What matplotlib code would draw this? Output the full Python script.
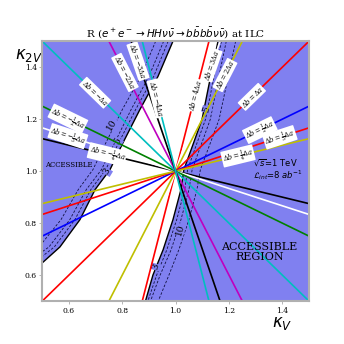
import matplotlib
matplotlib.use("Agg")
import matplotlib.pyplot as plt
import numpy as np

plt.rcParams['font.family'] = 'DejaVu Serif'

# lines  Delta b = k * Delta a  through the SM point (1, 1)
slopes = [4, 3, 2, 1, 1/2, 1/3, 1/4, -1/4, -1/3, -1/2, -1, -2, -3, -4]
line_colors = ['r', 'w', 'y', 'r', 'b', 'r', 'y', 'k', 'w', 'g', 'c', 'm', 'k', 'c']
line_labels = [r'$\Delta b=4\Delta a$', r'$\Delta b=3\Delta a$', r'$\Delta b=2\Delta a$',
               r'$\Delta b=\Delta a$', r'$\Delta b=\frac{1}{2}\Delta a$',
               r'$\Delta b=\frac{1}{3}\Delta a$', r'$\Delta b=\frac{1}{4}\Delta a$',
               r'$\Delta b=-\frac{1}{4}\Delta a$', r'$\Delta b=-\frac{1}{3}\Delta a$',
               r'$\Delta b=-\frac{1}{2}\Delta a$', r'$\Delta b=-\Delta a$',
               r'$\Delta b=-2\Delta a$', r'$\Delta b=-3\Delta a$', r'$\Delta b=-4\Delta a$']
label_kv = [1.073, 1.136, 1.185, 1.286, 1.316, 1.391, 1.234,
            0.743, 0.596, 0.596, 0.698, 0.81, 0.859, 0.93]

# edge of the accessible regions
left_kv = [0.99, 0.934, 0.866, 0.799, 0.754, 0.698, 0.641, 0.566, 0.5]
left_k2v = [1.5, 1.365, 1.237, 1.102, 1.006, 0.929, 0.813, 0.708, 0.647]
right_kv = [1.159, 1.129, 1.099, 1.065, 1.031, 1.02, 0.99, 0.953, 0.915, 0.887]
right_k2v = [1.5, 1.353, 1.199, 1.102, 1.006, 0.929, 0.813, 0.697, 0.6, 0.5]

# dashed R contours
contour_levels = ['3', '5', '10']
left_contours_kv = [[0.972, 0.918, 0.85, 0.783, 0.738, 0.682, 0.622, 0.545, 0.5],
                    [0.955, 0.9, 0.833, 0.768, 0.722, 0.665, 0.603, 0.525, 0.5],
                    [0.925, 0.87, 0.8, 0.735, 0.69, 0.635, 0.57, 0.5]]
left_contours_k2v = [[1.5, 1.365, 1.237, 1.102, 1.006, 0.929, 0.813, 0.708, 0.672],
                     [1.5, 1.365, 1.237, 1.102, 1.006, 0.929, 0.813, 0.708, 0.69],
                     [1.5, 1.365, 1.237, 1.102, 1.006, 0.929, 0.813, 0.724]]
right_contours_kv = [[1.172, 1.142, 1.112, 1.078, 1.045, 1.034, 1.004, 0.967, 0.929, 0.896],
                     [1.19, 1.16, 1.13, 1.096, 1.062, 1.05, 1.02, 0.983, 0.942, 0.906],
                     [1.225, 1.195, 1.163, 1.128, 1.093, 1.08, 1.05, 1.012, 0.975, 0.935]]
right_contours_k2v = [[1.5, 1.353, 1.199, 1.102, 1.006, 0.929, 0.813, 0.697, 0.6, 0.5]] * 3
left_clabel_pos = [(0.743, 0.998), (0.784, 1.114), (0.761, 1.18)]
right_clabel_pos = [(0.925, 0.631), (1.117, 1.237), (1.016, 0.774)]

fill_color = '#8080f0'

fig = plt.figure(figsize=(3.44, 3.44), dpi=100)
ax = fig.add_axes([0.123, 0.125, 0.775, 0.755])
ax.set_xlim(0.5, 1.5)
ax.set_ylim(0.5, 1.5)

# filled accessible regions
x0, x1 = ax.get_xlim()
y0, y1 = ax.get_ylim()
ax.fill(left_kv + [x0, x0], left_k2v + [y1, y1], color=fill_color, lw=0, zorder=1)
ax.fill(right_kv + [x1, x1], right_k2v + [y0, y1], color=fill_color, lw=0, zorder=1)
ax.plot(left_kv, left_k2v, color='k', lw=1.0, zorder=2)
ax.plot(right_kv, right_k2v, color='k', lw=1.0, zorder=2)

for xs, ys in zip(left_contours_kv + right_contours_kv, left_contours_k2v + right_contours_k2v):
    ax.plot(xs, ys, color='#101040', lw=0.6, ls=(0, (3, 2)), zorder=2)

# pixel aspect for rotating text along lines
bb = ax.get_position()
aspect = (bb.height / (y1 - y0)) / (bb.width / (x1 - x0))

for lev, (cx, cy) in zip(contour_levels, left_clabel_pos):
    ax.text(cx, cy, lev, fontsize=6.5, rotation=59, ha='center', va='center', zorder=3,
            bbox=dict(facecolor=fill_color, edgecolor='none', pad=0.3))
for lev, (cx, cy) in zip(contour_levels, right_clabel_pos):
    ax.text(cx, cy, lev, fontsize=6.5, rotation=73, ha='center', va='center', zorder=3,
            bbox=dict(facecolor=fill_color, edgecolor='none', pad=0.3))

xx = np.array([0.0, 2.0])
for k, c in zip(slopes, line_colors):
    ax.plot(xx, 1 + k * (xx - 1), color=c, lw=1.2, zorder=4)

for k, lab, lx in zip(slopes, line_labels, label_kv):
    ang = np.degrees(np.arctan(k * aspect))
    ax.text(lx, 1 + k * (lx - 1), lab, fontsize=4.8, rotation=ang, ha='center', va='center',
            math_fontfamily='dejavuserif', zorder=5,
            bbox=dict(boxstyle='round,pad=0.12', facecolor='white', edgecolor='none'))

ax.text(0.51, 1.023, 'ACCESSIBLE', fontsize=5, ha='left', va='center', zorder=5)
ax.text(1.314, 0.689, 'ACCESSIBLE\nREGION', fontsize=8, ha='center', va='center',
        linespacing=1.0, zorder=5)
ax.text(1.29, 1.031, r'$\sqrt{s}$=1 TeV', fontsize=6, family='DejaVu Sans',
        ha='left', va='center', zorder=5)
ax.text(1.29, 0.986, r'$\mathcal{L}_{int}$=8 $ab^{-1}$', fontsize=6, family='DejaVu Sans',
        ha='left', va='center', zorder=5)

ax.set_title(r'R ($e^+e^- \rightarrow HH\nu\bar{\nu} \rightarrow b\bar{b}b\bar{b}\nu\bar{\nu}$) at ILC',
             fontsize=7.5, pad=3)
ax.text(0.90, -0.085, r'$\kappa_V$', transform=ax.transAxes, fontsize=12,
        family='DejaVu Sans', ha='center', va='center')
ax.text(-0.05, 0.912, r'$\kappa_{2V}$', transform=ax.transAxes, fontsize=12,
        family='DejaVu Sans', ha='center', va='bottom')

ax.set_xticks([0.6, 0.8, 1.0, 1.2, 1.4])
ax.set_yticks([0.6, 0.8, 1.0, 1.2, 1.4])
ax.tick_params(labelsize=5.5, length=2, width=0.6, color='#aaaaaa', pad=2)
for s in ax.spines.values():
    s.set_color('#b0b0b0')
    s.set_linewidth(1.5)
    s.set_zorder(6)

fig.savefig('out.png', dpi=100)
